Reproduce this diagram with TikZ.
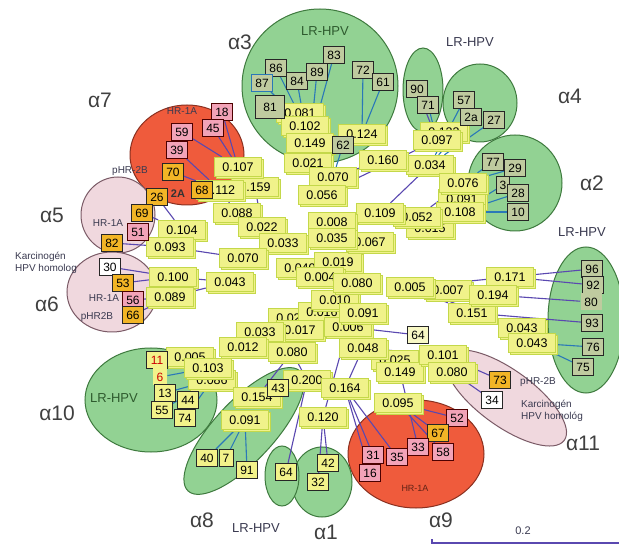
\documentclass[tikz,border=0pt]{standalone}
\usepackage{fontspec}
\setmainfont{Liberation Sans}
\usetikzlibrary{shadows}
\definecolor{elg}{HTML}{92D293}
\definecolor{elgd}{HTML}{3E7A3E}
\definecolor{elr}{HTML}{EF5B3C}
\definecolor{elrd}{HTML}{8A3020}
\definecolor{elp}{HTML}{F0D8DE}
\definecolor{elpd}{HTML}{7A5A66}
\definecolor{boxg}{HTML}{BFCB9F}
\definecolor{boxp}{HTML}{F2A3B8}
\definecolor{boxo}{HTML}{F2B526}
\definecolor{boxy}{HTML}{F2F28A}
\definecolor{dly}{HTML}{F0F28A}
\definecolor{dlb}{HTML}{C4D84A}
\definecolor{lnb}{HTML}{5A48B0}
\definecolor{lnt}{HTML}{2A78B8}
\definecolor{txg}{HTML}{2E5A2E}
\definecolor{txd}{HTML}{3A3A50}
\pgfdeclarelayer{back}\pgfdeclarelayer{mid}\pgfsetlayers{back,mid,main}
\tikzset{
  nb/.style={draw=black!85, line width=0.9pt, fill=boxg, inner sep=1.5pt, minimum width=21pt, minimum height=17pt, font=\fontsize{12}{12}\selectfont},
  nbp/.style={nb, fill=boxp, draw=black!70!red},
  nbo/.style={nb, fill=boxo},
  nby/.style={nb, fill=boxy},
  nbw/.style={nb, fill=white},
  dl/.style={draw=dlb, line width=1.3pt, fill=dly, inner sep=1.5pt, minimum width=47pt, minimum height=19pt, font=\fontsize{12.5}{12.5}\selectfont, copy shadow={shadow xshift=2pt, shadow yshift=-2pt}},
  br/.style={draw=lnb, line width=1.1pt},
  brt/.style={draw=lnt, line width=1.1pt},
  al/.style={font=\fontsize{21}{21}\selectfont, text=black!75},
  grp/.style={font=\fontsize{13}{13}\selectfont, text=txd},
  gel/.style={fill=elg, draw=elgd, line width=1pt},
  rel/.style={fill=elr, draw=elrd, line width=1pt},
  pel/.style={fill=elp, draw=elpd, line width=1pt},
}
\begin{document}
\begin{tikzpicture}[x=1pt,y=-1pt]
\useasboundingbox (0,0) rectangle (619,545);

% ---------- blobs ----------
\begin{pgfonlayer}{back}
\fill[white] (0,0) rectangle (619,545);
\draw[gel] (320,86) ellipse [x radius=78, y radius=77];
\draw[gel] (423,90) ellipse [x radius=20, y radius=42];
\draw[gel] (480,103) ellipse [x radius=37, y radius=39];
\draw[gel] (515,183) ellipse [x radius=47, y radius=48];
\draw[gel] (586,320) ellipse [x radius=38, y radius=73];
\draw[pel, rotate around={-36:(506,398)}] (506,398) ellipse [x radius=72, y radius=28];
\draw[rel] (416,454) ellipse [x radius=68, y radius=54];
\draw[gel] (322,482) ellipse [x radius=30, y radius=35];
\draw[gel] (282,476) ellipse [x radius=17, y radius=30];
\draw[gel, rotate around={47:(244,431)}] (244,431) ellipse [x radius=82, y radius=30];
\draw[gel] (151,400) ellipse [x radius=66, y radius=52];
\draw[rel] (187,155) ellipse [x radius=57, y radius=50];
\draw[pel] (118,215) ellipse [x radius=37, y radius=38];
\draw[pel] (112,292) ellipse [x radius=45, y radius=40];
\end{pgfonlayer}

% ---------- labels ----------
\node[al] (a3) at (240,42) {α3};
\node[al] (a7) at (100,100) {α7};
\node[al] (a4) at (570,96) {α4};
\node[al] (a2) at (592,183) {α2};
\node[al] (a5) at (52,215) {α5};
\node[al] (a6) at (47,304) {α6};
\node[al] (a10) at (57,413) {α10};
\node[al] (a8) at (202,520) {α8};
\node[al] (a1) at (326,532) {α1};
\node[al] (a9) at (441,520) {α9};
\node[al] (a11) at (583,443) {α11};

\node[grp, text=txg] (g3) at (325,31) {LR-HPV};
\node[grp] (g90) at (470,42) {LR-HPV};
\node[grp] (g96) at (582,232) {LR-HPV};
\node[grp, text=txg] (g10) at (114,398) {LR-HPV};
\node[grp] (g8) at (256,528) {LR-HPV};
\node[font=\fontsize{10}{10}\selectfont, text=txd] (h7) at (182,111) {HR-1A};
\node[font=\fontsize{10}{10}\selectfont, text=txd] (p7) at (130,171) {pHR-2B};
\node[font=\bfseries\fontsize{11}{11}\selectfont, text=black!80] (a2a) at (178,194) {2A};
\node[font=\fontsize{10}{10}\selectfont, text=txd] (h5) at (108,223) {HR-1A};
\node[font=\fontsize{10}{12}\selectfont, text=txd, align=left] (kh6) at (46,263) {Karcinogén\\HPV homolog};
\node[font=\fontsize{10}{10}\selectfont, text=txd] (h6) at (104,298) {HR-1A};
\node[font=\fontsize{10}{10}\selectfont, text=txd] (p6) at (97,317) {pHR2B};
\node[font=\fontsize{10}{10}\selectfont, text=txd] (p11) at (538,382) {pHR-2B};
\node[font=\fontsize{10}{12}\selectfont, text=txd, align=left] (kh11) at (552,411) {Karcinogén\\HPV homológ};
\node[font=\fontsize{9}{9}\selectfont, text=elrd!70!black] (h9) at (415,488) {HR-1A};

% scale bar
\coordinate (sb0) at (432,543);
\coordinate (sb1) at (619,543);
\draw[lnb, line width=1.2pt] ([yshift=4pt]sb0) -- (sb0) -- (sb1);
\node[font=\fontsize{11}{11}\selectfont, text=txd] (sbl) at (523,531) {0.2};

% ---------- distance boxes (back first) ----------
\node[dl] (dh1) at (300,113) {0.081};
\node[dl] (dh2) at (444,132) {0.123};
\node[dl] (dh3) at (462,199) {0.091};
\node[dl] (dh4) at (430,228) {0.015};
\node[dl] (dh5) at (472,313) {0.151};
\node[dl] (dh7) at (300,268) {0.040};
\node[dl] (dh8) at (338,262) {0.019};
\node[dl] (dh9) at (292,318) {0.021};
\node[dl] (dh10) at (322,312) {0.016};
\node[dl] (dh11) at (300,330) {0.017};
\node[dl] (dh12) at (335,300) {0.010};
\node[dl] (dh13) at (395,360) {0.025};
\node[dl] (dh14) at (448,290) {0.007};

\node[dl] (d159) at (255,187) {0.159};
\node[dl] (d112) at (220,190) {0.112};
\node[dl] (d107) at (238,167) {0.107};
\node[dl] (d088) at (237,213) {0.088};
\node[dl] (d104) at (182,230) {0.104};
\node[dl] (d093) at (170,247) {0.093};
\node[dl] (d022) at (262,227) {0.022};
\node[dl] (d033) at (283,243) {0.033};
\node[dl] (d070b) at (243,258) {0.070};
\node[dl] (d043) at (230,282) {0.043};
\node[dl] (d100) at (173,277) {0.100};
\node[dl] (d089) at (170,297) {0.089};
\node[dl] (d102) at (305,126) {0.102};
\node[dl] (d124) at (362,134) {0.124};
\node[dl] (d149) at (310,143) {0.149};
\node[dl] (d034) at (430,165) {0.034};
\node[dl] (d021) at (308,163) {0.021};
\node[dl] (d160) at (383,160) {0.160};
\node[dl] (d070) at (333,177) {0.070};
\node[dl] (d056) at (322,195) {0.056};
\node[dl] (d097) at (437,140) {0.097};
\node[dl] (d076) at (463,183) {0.076};
\node[dl] (d108) at (460,212) {0.108};
\node[dl] (d052) at (417,217) {0.052};
\node[dl] (d109) at (380,213) {0.109};
\node[dl] (d008) at (332,222) {0.008};
\node[dl] (d067) at (370,242) {0.067};
\node[dl] (d035) at (332,238) {0.035};
\node[dl] (d005) at (410,287) {0.005};
\node[dl] (d004) at (320,277) {0.004};
\node[dl] (d080) at (357,283) {0.080};
\node[dl] (d171) at (510,277) {0.171};
\node[dl] (d194) at (493,295) {0.194};
\node[dl] (d043a) at (522,328) {0.043};
\node[dl] (d043b) at (532,343) {0.043};
\node[dl] (d006) at (348,327) {0.006};
\node[dl] (d091) at (363,313) {0.091};
\node[dl] (d033b) at (260,332) {0.033};
\node[dl] (d012) at (243,347) {0.012};
\node[dl] (d005b) at (190,357) {0.005};
\node[dl] (d086) at (212,380) {0.086};
\node[dl] (d103) at (208,368) {0.103};
\node[dl] (d080b) at (292,352) {0.080};
\node[dl] (d048) at (363,348) {0.048};
\node[dl] (d149b) at (400,372) {0.149};
\node[dl] (d101) at (443,355) {0.101};
\node[dl] (d080c) at (452,372) {0.080};
\node[dl] (d154) at (257,397) {0.154};
\node[dl] (d200) at (307,380) {0.200};
\node[dl] (d164) at (345,388) {0.164};
\node[dl] (d095) at (398,403) {0.095};
\node[dl] (d120) at (323,417) {0.120};
\node[dl] (d091b) at (245,420) {0.091};

% ---------- type boxes ----------
% alpha3
\node[nb] (n86) at (276,68) {86};
\node[nb, draw=lnt] (n87) at (262,83) {87};
\node[nb] (n84) at (297,81) {84};
\node[nb] (n89) at (317,72) {89};
\node[nb] (n83) at (334,55) {83};
\node[nb] (n72) at (363,70) {72};
\node[nb] (n61) at (383,82) {61};
\node[nb, minimum width=29pt, minimum height=23pt] (n81) at (270,107) {81};
\node[nb] (n62) at (343,145) {62};
% LR small
\node[nb] (n90) at (417,89) {90};
\node[nb] (n71) at (428,105) {71};
% alpha4
\node[nb] (n57) at (464,100) {57};
\node[nb] (n2a) at (471,117) {2a};
\node[nb] (n27) at (494,120) {27};
% alpha2
\node[nb] (n77) at (493,162) {77};
\node[nb] (n29) at (515,168) {29};
\node[nb, minimum width=13pt] (n3) at (503,185) {3};
\node[nb] (n28) at (518,193) {28};
\node[nb] (n10) at (518,212) {10};
% right LR
\node[nb] (n96) at (592,269) {96};
\node[nb] (n92) at (593,285) {92};
\node[nb, draw=none] (n80) at (591,302) {80};
\node[nb] (n93) at (592,323) {93};
\node[nb] (n76) at (593,347) {76};
\node[nb] (n75) at (583,367) {75};
% alpha11
\node[nbo] (n73) at (500,380) {73};
\node[nbw] (n34) at (492,400) {34};
% alpha9
\node[nbp] (n52) at (457,418) {52};
\node[nbo] (n67) at (438,433) {67};
\node[nbp] (n58) at (443,452) {58};
\node[nbp] (n33) at (418,447) {33};
\node[nbp] (n16) at (370,473) {16};
\node[nbp] (n31) at (373,455) {31};
\node[nbp] (n35) at (397,457) {35};
\node[nby, fill=boxy!50] (n64u) at (418,335) {64};
% alpha1
\node[nby] (n42) at (328,463) {42};
\node[nby] (n32) at (318,482) {32};
\node[nby] (n64) at (286,472) {64};
% alpha8
\node[nby] (n40) at (207,458) {40};
\node[nby, minimum width=14pt] (n7) at (226,458) {7};
\node[nby] (n91) at (247,470) {91};
\node[nby] (n43) at (278,388) {43};
% alpha10
\node[nby, text=red!80!black] (n11) at (157,360) {11};
\node[nby, text=red!80!black, minimum width=14pt, draw=none] (n6) at (160,377) {6};
\node[nby] (n13) at (165,393) {13};
\node[nby] (n55) at (162,410) {55};
\node[nby] (n44) at (188,400) {44};
\node[nby] (n74) at (185,418) {74};
% alpha7
\node[nbp] (n18) at (222,112) {18};
\node[nbp] (n45) at (213,128) {45};
\node[nbp] (n59) at (182,132) {59};
\node[nbp] (n39) at (177,150) {39};
\node[nbo] (n70) at (173,172) {70};
\node[nbo] (n68) at (202,190) {68};
% alpha5
\node[nbo] (n26) at (157,197) {26};
\node[nbo] (n69) at (142,213) {69};
\node[nbp] (n51) at (138,232) {51};
\node[nbo] (n82) at (112,243) {82};
% alpha6
\node[nbw] (n30) at (110,267) {30};
\node[nbo] (n53) at (123,283) {53};
\node[nbp] (n56) at (133,300) {56};
\node[nbo] (n66) at (133,315) {66};

% ---------- branches ----------
\begin{pgfonlayer}{mid}
\draw[brt] (d102) -- (n86); \draw[brt] (d102) -- (n87); \draw[brt] (d102) -- (n84);
\draw[brt] (d149) -- (n89); \draw[brt] (d149) -- (n83);
\draw[brt] (d124) -- (n72); \draw[brt] (d124) -- (n61);
\draw[brt] (d021) -- (n81); \draw[brt] (d070) -- (n62);
\draw[brt] (d070) -- (d021);
\draw[br] (d097) -- (n90); \draw[brt] (d097) -- (n71);
\draw[br] (d056) -- (d097); \draw[br] (d070) -- (d160);
\draw[brt] (d034) -- (n57); \draw[brt] (d034) -- (n2a); \draw[brt] (d034) -- (n27);
\draw[br] (d109) -- (d034);
\draw[brt] (d076) -- (n77); \draw[brt] (d076) -- (n29);
\draw[brt] (d108) -- (n3); \draw[brt] (d108) -- (n28); \draw[brt] (d108) -- (n10);
\draw[br] (d109) -- (d052); \draw[br] (d052) -- (d076);
\draw[br] (d171) -- (n96); \draw[br] (d171) -- (n92); \draw[br] (d194) -- (n80);
\draw[br] (dh5) -- (n93); \draw[brt] (d043b) -- (n76); \draw[brt] (d043b) -- (n75);
\draw[br] (d005) -- (d171); \draw[br] (d005) -- (d194); \draw[br] (d005) -- (dh5);
\draw[br] (d005) -- (d043a);
\draw[br] (d101) -- (n73); \draw[br] (d080c) -- (n34);
\draw[br] (d006) -- (n64u); \draw[br] (d048) -- (d101);
\draw[br] (d095) -- (n52); \draw[br] (d095) -- (n67); \draw[br] (d095) -- (n58);
\draw[br] (d149b) -- (n33); \draw[br] (d164) -- (n35); \draw[br] (d164) -- (n31);
\draw[br] (d164) -- (n16); \draw[br] (d048) -- (d164);
\draw[br] (d120) -- (n42); \draw[br] (d120) -- (n32); \draw[br] (d200) -- (n64);
\draw[br] (d080b) -- (d200); \draw[br] (d006) -- (d120);
\draw[brt] (d091b) -- (n40); \draw[brt] (d091b) -- (n7); \draw[brt] (d091b) -- (n91);
\draw[br] (d154) -- (n43); \draw[br] (d080b) -- (d154);
\draw[brt] (d103) -- (n11); \draw[brt] (d103) -- (n6); \draw[brt] (d086) -- (n13);
\draw[brt] (d086) -- (n55); \draw[brt] (d086) -- (n44); \draw[brt] (d086) -- (n74);
\draw[br] (d033b) -- (d103);
\draw[br] (d107) -- (n18); \draw[br] (d107) -- (n45); \draw[br] (d107) -- (n59);
\draw[br] (d112) -- (n39); \draw[br] (d112) -- (n70); \draw[br] (d088) -- (d112);
\draw[br] (d022) -- (d159);
\draw[br] (d104) -- (n26); \draw[br] (d104) -- (n69); \draw[br] (d093) -- (n51);
\draw[br] (d093) -- (n82); \draw[br] (d070b) -- (d093);
\draw[br] (d100) -- (n30); \draw[br] (d100) -- (n53); \draw[br] (d089) -- (n56);
\draw[br] (d089) -- (n66); \draw[br] (d043) -- (d100); \draw[br] (d043) -- (d089);
\end{pgfonlayer}
\end{tikzpicture}
\end{document}
